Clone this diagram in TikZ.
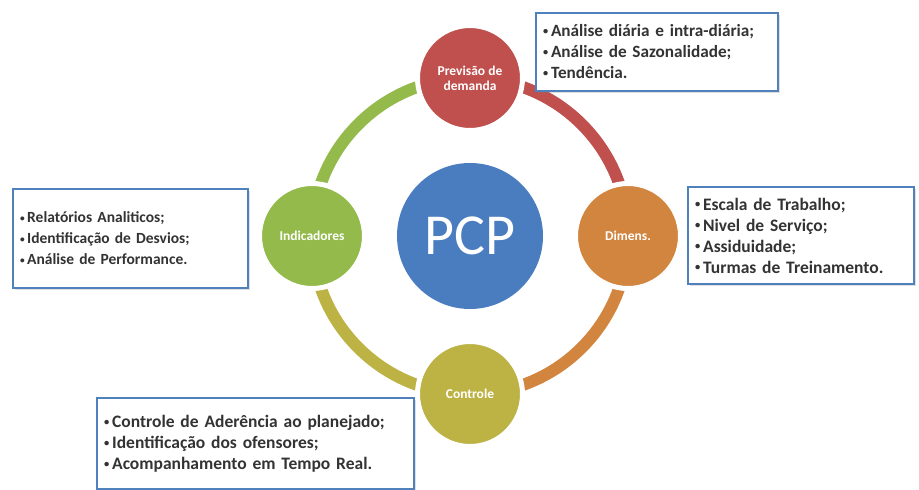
\documentclass[tikz,border=0pt]{standalone}
\usepackage{fontspec}
\setmainfont{Carlito}
\usetikzlibrary{backgrounds,shadows}

\definecolor{pcpblue}{HTML}{4A7DBF}
\definecolor{prevred}{HTML}{C0504D}
\definecolor{dimorange}{HTML}{D2853F}
\definecolor{ctrlolive}{HTML}{BDB244}
\definecolor{indgreen}{HTML}{93BA4A}
\definecolor{boxblue}{HTML}{4F81BD}

\newcommand{\bul}{\raisebox{0.12em}{\scalebox{0.6}{•}}\,}

\begin{document}
\begin{tikzpicture}[x=1pt,y=1pt,
	stage/.style={circle, minimum size=105pt, inner sep=0pt, draw=white, line width=5pt, text=white, font=\bfseries\fontsize{13.5}{15}\selectfont, align=center},
	infobox/.style={draw=boxblue, line width=1.6pt, fill=white, drop shadow={opacity=0.25, shadow xshift=2pt, shadow yshift=-2pt}, align=left, inner xsep=7pt, font=\bfseries\fontsize{#1}{21}\selectfont, text=black!80},
	ring/.style={line width=12pt}]
		\useasboundingbox (0,0) rectangle (919,490);

		\draw (470,254) node[circle, fill=pcpblue, minimum size=146pt, text=white, font=\fontsize{58}{60}\selectfont] (pcp) {PCP};

		\draw (470,412) node[stage, fill=prevred] (prev) {Previsão de\\demanda};
		\draw (628,254) node[stage, fill=dimorange] (dim) {Dimens.};
		\draw (470,96) node[stage, fill=ctrlolive] (ctrl) {Controle};
		\draw (312,254) node[stage, fill=indgreen] (ind) {Indicadores};

		\begin{scope}[on background layer]
			\draw[ring, prevred] (prev.center) arc[start angle=90, end angle=0, radius=158];
			\draw[ring, dimorange] (dim.center) arc[start angle=0, end angle=-90, radius=158];
			\draw[ring, ctrlolive] (ctrl.center) arc[start angle=270, end angle=180, radius=158];
			\draw[ring, indgreen] (ind.center) arc[start angle=180, end angle=90, radius=158];
		\end{scope}

		\draw (657,438) node[infobox=17.2, text width=228pt, minimum height=78pt] (prevbox) {\bul Análise diária e intra-diária;\\\bul Análise de Sazonalidade;\\\bul Tendência.};
		\draw (801,254.5) node[infobox=17.5, text width=212pt, minimum height=97pt] (dimbox) {\bul Escala de Trabalho;\\\bul Nivel de Serviço;\\\bul Assiduidade;\\\bul Turmas de Treinamento.};
		\draw (130.5,251.5) node[infobox=15.5, text width=221pt, minimum height=99pt] (indbox) {\bul Relatórios Analiticos;\\\bul Identificação de Desvios;\\\bul Análise de Performance.};
		\draw (255.5,46.5) node[infobox=17.5, text width=303pt, minimum height=91pt] (ctrlbox) {\bul Controle de Aderência ao planejado;\\\bul Identificação dos ofensores;\\\bul Acompanhamento em Tempo Real.};
	\end{tikzpicture}
\end{document}
